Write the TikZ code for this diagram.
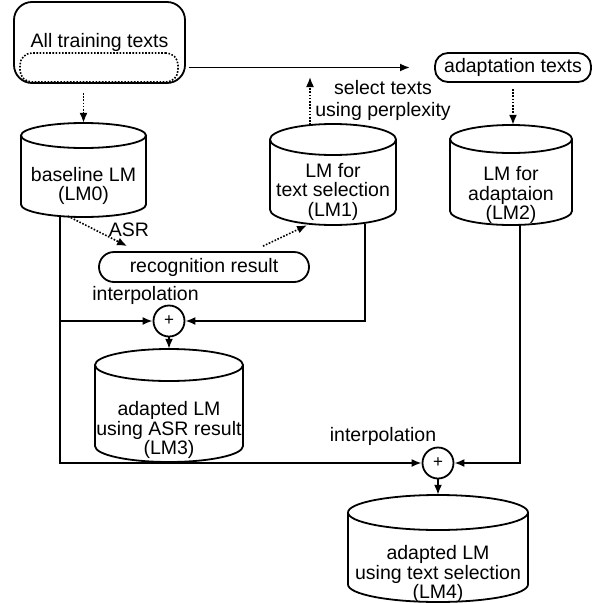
\documentclass[tikz,border=0pt]{standalone}
\usepackage{fontspec}
\setmainfont{Liberation Sans}
\usetikzlibrary{arrows.meta,calc}

\tikzset{
  line/.style={line width=1.8pt},
  dotline/.style={line width=1.6pt, dash pattern=on 1.6pt off 1.6pt},
  tip/.style={-{Latex[length=10pt,width=8pt]}},
  lbl/.style={font=\fontsize{19.5}{19.5}\selectfont, align=center, inner sep=0pt},
  pillbox/.style={draw, line width=1.8pt, inner sep=0pt,
    font=\fontsize{19.5}{19.5}\selectfont},
  sumnode/.style={circle, draw, line width=1.8pt, minimum size=31pt, inner sep=0pt,
    font=\fontsize{17}{17}\selectfont},
}

% drum (database) shape: name, centre x, top y, bottom y, half width, ellipse radius
\newcommand\drum[6]{%
  \node[inner sep=0pt, minimum width={2*#5*1pt}, minimum height={(#4-#3)*1pt}]
    (#1) at (#2,{(#3+#4)/2}) {};
  \draw[line] (#2-#5,#3+#6) -- (#2-#5,#4-#6)
    arc[start angle=180, end angle=0, x radius=#5, y radius=#6] -- (#2+#5,#3+#6);
  \draw[line] (#2,#3+#6) ellipse[x radius=#5, y radius=#6];
}

\begin{document}
\begin{tikzpicture}[x=1pt,y=-1pt]
\useasboundingbox (0,0) rectangle (603,603);

% text sources
\node[pillbox, rounded corners=18pt, minimum width=171pt, minimum height=81pt]
  (all) at (99.5,42.5) {All training texts};
\node[draw, dotline, rounded corners=12pt, minimum width=158pt, minimum height=29pt]
  (sub) at (99,67.5) {};
\node[pillbox, rounded corners=13pt, minimum width=156pt, minimum height=29pt]
  (adapt) at (513,67.5) {adaptation texts};
\node[pillbox, rounded corners=15pt, minimum width=210pt, minimum height=30pt]
  (recog) at (204,267) {recognition result};

% language models
\drum{lm0}{83.5}{123}{217}{62.5}{12.5}
\node[lbl] (lm0t) at (83.5,186) {baseline LM\\(LM0)};
\drum{lm1}{333}{124}{225}{63}{15.5}
\node[lbl] (lm1t) at (333,191.5) {LM for\\text selection\\(LM1)};
\drum{lm2}{511}{125}{225}{61}{14}
\node[lbl] (lm2t) at (511,195) {LM for\\adaptaion\\(LM2)};
\drum{lm3}{169}{349}{462}{74}{16}
\node[lbl] (lm3t) at (169,430) {adapted LM\\using ASR result\\(LM3)};
\drum{lm4}{438}{495}{602}{90}{17.5}
\node[lbl] (lm4t) at (438,574) {adapted LM\\using text selection\\(LM4)};

% interpolation points
\node[sumnode] (sum1) at (169,321) {+};
\node[sumnode] (sum2) at (438,463) {+};

% labels
\node[lbl] (sel) at (383,100.5) {select texts\\[3pt]using perplexity};
\node[lbl] (asr) at (129,230) {ASR};
\node[lbl] (int1) at (145.5,295) {interpolation};
\node[lbl] (int2) at (383,436) {interpolation};

% free ends
\coordinate (selend) at (410,67.5);
\coordinate (up) at (310,77);
\coordinate (lm1from) at (310,125);
\coordinate (lm0out) at (60,216);
\coordinate (lm1out) at (365,224);
\coordinate (lm2out) at (520,224);

% connectors
\draw[line,tip,shorten <=10pt] (sub.east) -- (selend);
\draw[dotline,tip,shorten <=9pt] (lm0.north |- all.south) -- (lm0.north);
\draw[dotline,tip] (lm1from) -- (up);
\draw[dotline,tip,shorten <=6pt] (adapt.south) -- (adapt.south |- lm2.north);
\draw[dotline,tip] ($(lm0.south)+(-15.5,-1)$) -- ($(recog.north west)+(29,-5)$);
\draw[dotline,tip] ($(recog.north)+(59,-5)$) -- ($(lm1.south)+(-26,0)$);

\draw[line,tip] (lm0out) |- (sum2.west);
\draw[line,tip] (lm0out |- sum1.west) -- (sum1.west);
\draw[line,tip] (lm1out) |- (sum1.east);
\draw[line,tip] (lm2out) |- (sum2.east);
\draw[line,tip] (sum1.south) -- (lm3.north);
\draw[line,tip] (sum2.south) -- (lm4.north);
\end{tikzpicture}
\end{document}
